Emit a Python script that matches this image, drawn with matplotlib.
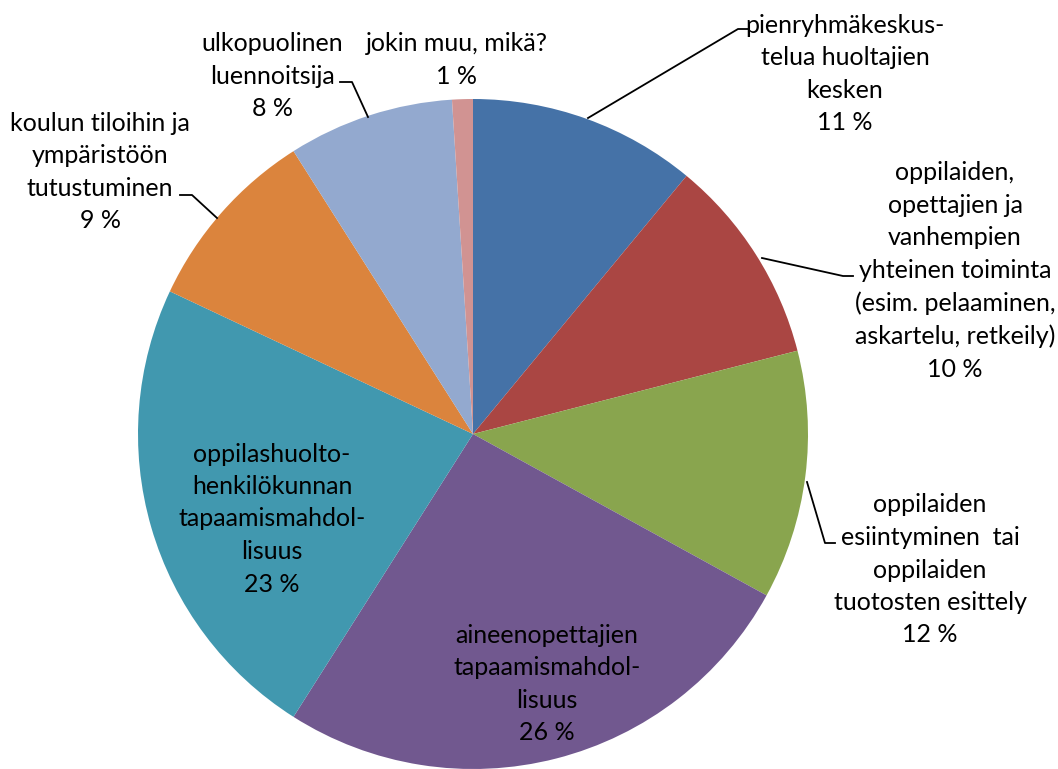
import matplotlib
matplotlib.use("Agg")
import matplotlib.pyplot as plt

W, H = 1058, 769

labels = [
    "pienryhmäkeskus-\ntelua huoltajien\nkesken",
    "oppilaiden,\nopettajien ja\nvanhempien\nyhteinen toiminta\n(esim. pelaaminen,\naskartelu, retkeily)",
    "oppilaiden\nesiintyminen  tai\noppilaiden\ntuotosten esittely",
    "aineenopettajien\ntapaamismahdol-\nlisuus",
    "oppilashuolto-\nhenkilökunnan\ntapaamismahdol-\nlisuus",
    "koulun tiloihin ja\nympäristöön\ntutustuminen",
    "ulkopuolinen\nluennoitsija",
    "jokin muu, mikä?",
]
values = [11, 10, 12, 26, 23, 9, 8, 1]
colors = ["#4572A7", "#AA4643", "#89A54E", "#71588F", "#4198AF", "#DB843D", "#93A9CF", "#D19392"]

# label centres (pixel coords) and leader lines (pixel coords)
label_pos = [(845, 74), (955, 271), (930, 570), (547, 684), (272, 519), (100, 172), (272, 76), (457, 60)]
leaders = [
    [(588, 118), (738, 29), (748, 29)],
    [(762, 258), (843, 276), (853, 276)],
    [(807, 482), (825, 543), (835, 543)],
    None, None,
    [(217, 218), (192, 195), (180, 195)],
    [(368, 117), (352, 82), (340, 82)],
    None,
]

fig = plt.figure(figsize=(W / 100, H / 100), dpi=100)
ax = fig.add_axes([0, 0, 1, 1])

cx, cy, r = 473, 434, 335
ax.pie(values, colors=colors, startangle=90, counterclock=False,
       center=(cx, H - cy), radius=r, frame=True,
       wedgeprops=dict(linewidth=0))
ax.set_xlim(0, W)
ax.set_ylim(0, H)
ax.set_aspect("equal")
ax.axis("off")

for lab, v, (px, py), ld in zip(labels, values, label_pos, leaders):
    ax.text(px, H - py, f"{lab}\n{v} %", ha="center", va="center",
            fontsize=18, family="Lato", linespacing=1.5, color="black")
    if ld:
        ax.plot([p[0] for p in ld], [H - p[1] for p in ld], color="black", lw=1.3)

fig.savefig("out.png", dpi=100)
